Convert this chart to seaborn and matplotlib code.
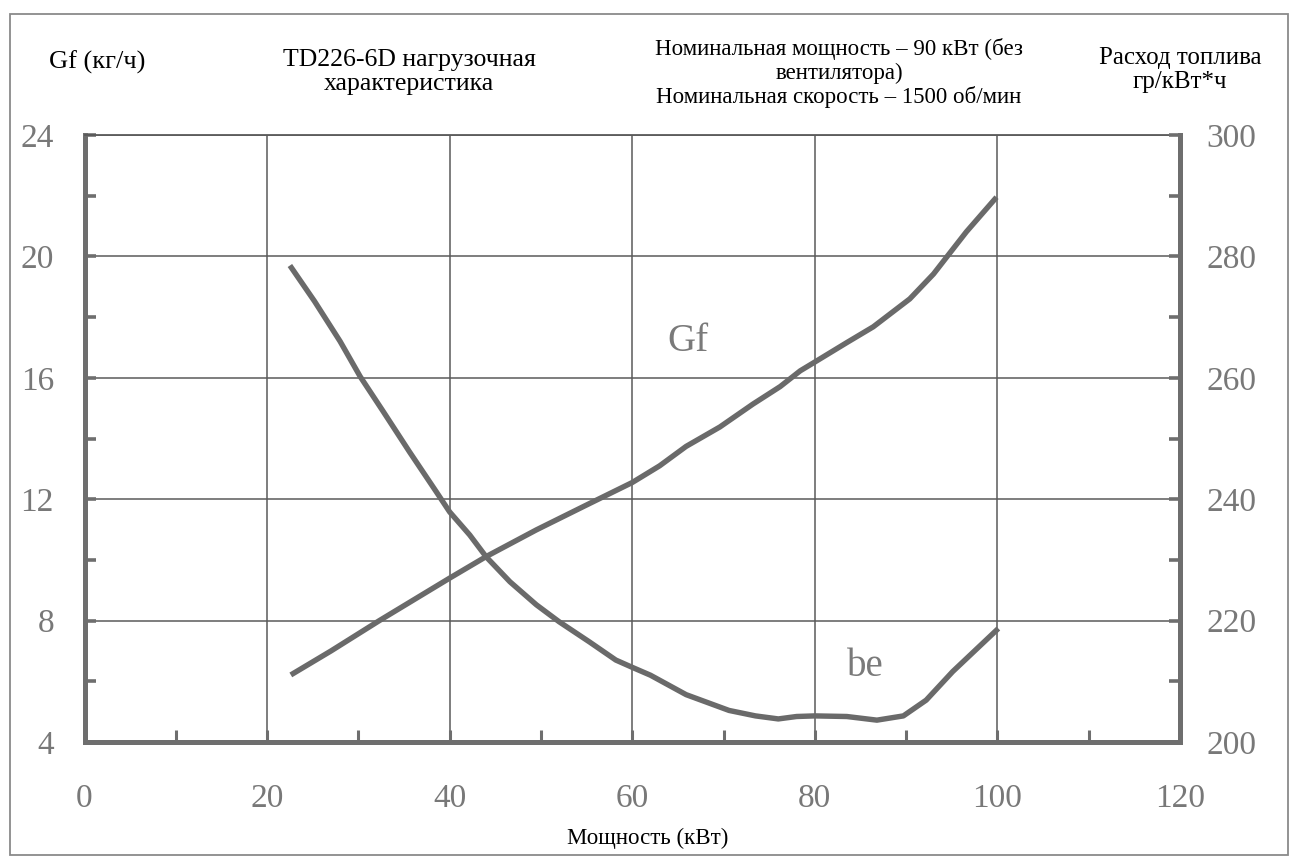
import matplotlib
matplotlib.use("Agg")
import matplotlib.pyplot as plt
from matplotlib.patches import Rectangle
from matplotlib.ticker import MultipleLocator
import seaborn as sns
import pandas as pd

# ---- data ----
gf_power = [22.6, 27.0, 32.3, 40.0, 44.0, 49.5, 55.0, 60.0, 63.0, 65.9, 69.6,
            73.2, 76.2, 78.4, 80.0, 83.5, 86.4, 90.4, 93.0, 94.5, 96.6, 99.9]
gf_values = [6.21, 7.0, 8.0, 9.40, 10.11, 10.99, 11.81, 12.55, 13.1, 13.74, 14.38,
             15.13, 15.71, 16.23, 16.52, 17.16, 17.68, 18.6, 19.42, 20.0, 20.81, 21.95]

be_power = [22.5, 25.2, 28.0, 30.2, 32.7, 35.6, 38.5, 40.0, 42.2, 44.0, 46.6, 49.5,
            52.0, 55.3, 58.2, 60.0, 62.0, 65.9, 70.6, 73.5, 76.0, 78.0, 80.0, 83.5,
            86.8, 89.7, 92.2, 95.1, 100.1]
be_values = [278.5, 272.6, 266.0, 260.2, 254.5, 247.8, 241.3, 237.9, 234.1, 230.5,
             226.4, 222.6, 219.8, 216.5, 213.5, 212.3, 211.0, 207.8, 205.2, 204.3,
             203.8, 204.2, 204.3, 204.2, 203.6, 204.3, 206.9, 211.6, 218.7]

x_ticks = [0, 20, 40, 60, 80, 100, 120]
left_ticks = [4, 8, 12, 16, 20, 24]
right_ticks = [200, 220, 240, 260, 280, 300]

title_left = "TD226-6D нагрузочная\nхарактеристика"
title_right = "Номинальная мощность – 90 кВт (без\nвентилятора)\nНоминальная скорость – 1500 об/мин"
left_label = "Gf (кг/ч)"
right_label = "Расход топлива\nгр/кВт*ч"
x_label = "Мощность (кВт)"

# ---- style ----
sns.set_theme(style="white")
plt.rcParams["font.family"] = ["Liberation Serif", "DejaVu Serif"]

LINE = "#6a6a6a"
GRID = "#5a5a5a"
SPINE = "#6e6e6e"
TICKTXT = "#787878"

fig = plt.figure(figsize=(12.95, 8.61), dpi=100)
ax = fig.add_axes([84.5 / 1295, 1 - 742 / 861, (1180 - 84.5) / 1295, (742 - 135) / 861])
ax2 = ax.twinx()

df_gf = pd.DataFrame({"P": gf_power, "Gf": gf_values})
df_be = pd.DataFrame({"P": be_power, "be": be_values})

sns.lineplot(data=df_gf, x="P", y="Gf", ax=ax, color=LINE, linewidth=3.9,
             sort=False, estimator=None, solid_capstyle="butt", solid_joinstyle="round")
sns.lineplot(data=df_be, x="P", y="be", ax=ax2, color=LINE, linewidth=3.9,
             sort=False, estimator=None, solid_capstyle="butt", solid_joinstyle="round")

ax.set_xlim(0, 120)
ax.set_ylim(4, 24)
ax2.set_ylim(200, 300)

ax.set_xticks(x_ticks)
ax.set_xticklabels([str(t) for t in x_ticks])
ax.xaxis.set_minor_locator(MultipleLocator(10))
ax.set_yticks(left_ticks)
ax.set_yticklabels([str(t) for t in left_ticks])
ax.yaxis.set_minor_locator(MultipleLocator(2))
ax2.set_yticks(right_ticks)
ax2.set_yticklabels([str(t) for t in right_ticks])
ax2.yaxis.set_minor_locator(MultipleLocator(10))

ax.set_xlabel("")
ax.set_ylabel("")
ax2.set_ylabel("")

# grid
ax.grid(True, which="major", axis="both", color=GRID, linewidth=1.1)
ax.set_axisbelow(True)

# ticks
ax.tick_params(axis="y", which="both", direction="in", length=8, width=2.6,
               color=SPINE, left=True, right=False, labelsize=24,
               labelcolor=TICKTXT, pad=22)
ax.tick_params(axis="x", which="both", direction="in", length=9, width=2.2,
               color=SPINE, bottom=True, top=False, labelsize=24,
               labelcolor=TICKTXT, pad=30)
ax2.tick_params(axis="y", which="both", direction="in", length=8, width=2.6,
                color=SPINE, right=True, left=False, labelsize=24,
                labelcolor=TICKTXT, pad=19)

# spines
for s in ["left", "bottom"]:
    ax.spines[s].set_visible(True)
    ax.spines[s].set_color(SPINE)
    ax.spines[s].set_linewidth(3.6)
ax.spines["top"].set_visible(True)
ax.spines["top"].set_color(GRID)
ax.spines["top"].set_linewidth(1.3)
ax.spines["right"].set_visible(False)
for s in ["left", "bottom", "top"]:
    ax2.spines[s].set_visible(False)
ax2.spines["right"].set_visible(True)
ax2.spines["right"].set_color(SPINE)
ax2.spines["right"].set_linewidth(3.6)

# curve labels
ax.text(66.1, 17.2, "Gf", fontsize=28, color="#7a7a7a", ha="center", va="center")
ax.text(85.5, 6.5, "be", fontsize=28, color="#7a7a7a", ha="center", va="center")

# header texts
fig.text(97 / 1295, 1 - 62 / 861, left_label, fontsize=19, color="black",
         ha="center", va="center")
fig.text(409 / 1295, 1 - 72 / 861, title_left, fontsize=18.5, color="black",
         ha="center", va="center", linespacing=1.08)
fig.text(839 / 1295, 1 - 73 / 861, title_right, fontsize=16.5, color="black",
         ha="center", va="center", linespacing=1.12)
fig.text(1180 / 1295, 1 - 70 / 861, right_label, fontsize=18, color="black",
         ha="center", va="center", linespacing=1.08)
fig.text(648 / 1295, 1 - 838 / 861, x_label, fontsize=16.5, color="black",
         ha="center", va="center")

# outer frame
fig.patches.append(Rectangle((10 / 1295, 1 - 855 / 861), (1288 - 10) / 1295,
                             (855 - 14) / 861, transform=fig.transFigure,
                             fill=False, edgecolor="#8a8a8a", linewidth=1.3))

fig.savefig("out.png", dpi=100, facecolor="white")
